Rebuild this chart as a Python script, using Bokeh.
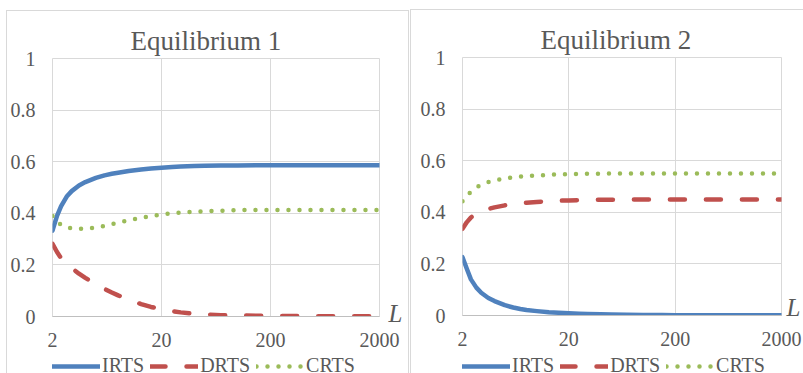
from bokeh.plotting import figure
from bokeh.models import Range1d, FixedTicker, Legend, LegendItem, LinearAxis
from bokeh.layouts import row, column
from bokeh.embed import file_html
from bokeh.resources import INLINE

# ---- data ----
L_values = [2, 2.2, 2.4, 2.7, 3, 3.5, 4, 5, 6, 7, 8, 10, 13, 16, 20, 25, 30, 40, 50, 70,
            100, 150, 200, 300, 500, 1000, 2000]

eq1_irts = [0.333, 0.390, 0.428, 0.465, 0.486, 0.508, 0.521, 0.537, 0.547, 0.553, 0.557, 0.564,
            0.570, 0.574, 0.577, 0.579, 0.581, 0.583, 0.584, 0.585, 0.585, 0.586, 0.586, 0.586,
            0.586, 0.586, 0.586]
eq1_drts = [0.282, 0.250, 0.226, 0.205, 0.188, 0.166, 0.150, 0.125, 0.107, 0.093, 0.082, 0.065,
            0.048, 0.037, 0.028, 0.021, 0.016, 0.011, 0.008, 0.005, 0.004, 0.003, 0.002, 0.002,
            0.001, 0.001, 0.001]
eq1_crts = [0.390, 0.370, 0.355, 0.346, 0.342, 0.340, 0.341, 0.344, 0.351, 0.358, 0.364, 0.373,
            0.383, 0.389, 0.396, 0.400, 0.403, 0.406, 0.408, 0.410, 0.412, 0.413, 0.413, 0.413,
            0.413, 0.413, 0.413]

eq2_irts = [0.226, 0.180, 0.140, 0.108, 0.088, 0.068, 0.056, 0.040, 0.031, 0.025, 0.021, 0.017,
            0.013, 0.011, 0.009, 0.007, 0.006, 0.005, 0.004, 0.003, 0.002, 0.002, 0.001, 0.001,
            0.001, 0.001, 0.001]
eq2_drts = [0.336, 0.362, 0.380, 0.396, 0.405, 0.413, 0.419, 0.427, 0.432, 0.435, 0.437, 0.440,
            0.443, 0.445, 0.446, 0.447, 0.448, 0.449, 0.449, 0.449, 0.450, 0.450, 0.450, 0.450,
            0.450, 0.450, 0.450]
eq2_crts = [0.443, 0.464, 0.480, 0.496, 0.507, 0.517, 0.523, 0.531, 0.536, 0.539, 0.541, 0.543,
            0.545, 0.547, 0.548, 0.549, 0.549, 0.550, 0.550, 0.550, 0.550, 0.550, 0.550, 0.550,
            0.550, 0.550, 0.550]

series_names = ["IRTS", "DRTS", "CRTS"]
titles = ["Equilibrium 1", "Equilibrium 2"]
x_label = "L"
x_ticks = [2, 20, 200, 2000]
x_tick_labels = ["2", "20", "200", "2000"]
y_ticks = [0, 0.2, 0.4, 0.6, 0.8, 1]
y_tick_labels = ["0", "0.2", "0.4", "0.6", "0.8", "1"]

# ---- style ----
FONT = "Liberation Serif"
TXT = "#595959"
GRID = "#d9d9d9"
COLORS = ["#4f81bd", "#c0504d", "#9bbb59"]
DASHES = ["solid", "15 21", "0 11"]
LW = 4.5
CHART_H = 354
LEG_H = 19


def add_lines(p, ys):
    return [p.line(L_values, y, line_color=c, line_width=LW, line_dash=d,
                   line_cap="round", line_join="round")
            for y, c, d in zip(ys, COLORS, DASHES)]


def chart(title, ys, width, mb, l_standoff, l_pos):
    p = figure(width=width, height=CHART_H, x_axis_type="log",
               x_range=Range1d(2, 2000), y_range=Range1d(0, 1),
               output_backend="svg", toolbar_location=None, title=title,
               min_border_left=mb[0], min_border_right=mb[1],
               min_border_top=mb[2], min_border_bottom=mb[3])
    p.border_fill_color = None
    p.background_fill_color = "white"
    p.outline_line_color = GRID

    p.title.text_font = FONT
    p.title.text_font_size = "27px"
    p.title.text_font_style = "normal"
    p.title.text_color = TXT
    p.title.align = "left"
    p.title.offset = 78
    p.title.standoff = 6

    p.xaxis.ticker = FixedTicker(ticks=x_ticks)
    p.xaxis.major_label_overrides = {t: s for t, s in zip(x_ticks, x_tick_labels)}
    p.yaxis.ticker = FixedTicker(ticks=y_ticks)
    p.yaxis.major_label_overrides = {t: s for t, s in zip(y_ticks, y_tick_labels)}
    for ax in (p.xaxis[0], p.yaxis[0]):
        ax.major_tick_line_color = None
        ax.minor_tick_line_color = None
        ax.major_tick_out = 0
        ax.major_tick_in = 0
        ax.minor_tick_out = 0
        ax.major_label_text_font = FONT
        ax.major_label_text_font_size = "20px"
        ax.major_label_text_color = TXT
    p.yaxis.axis_line_color = None
    p.yaxis.major_label_standoff = 17
    p.xaxis.axis_line_color = "#bfbfbf"
    p.xaxis.major_label_standoff = 16
    p.xgrid.ticker = FixedTicker(ticks=x_ticks)
    p.ygrid.ticker = FixedTicker(ticks=y_ticks)
    p.grid.grid_line_color = GRID
    p.xgrid.minor_grid_line_color = None

    # "L" (x-axis name) shown as a label on a right-hand axis, level with the x axis end
    lax = LinearAxis(ticker=FixedTicker(ticks=[l_pos]),
                     major_label_overrides={l_pos: x_label},
                     axis_line_color=None, major_tick_line_color=None,
                     minor_tick_line_color=None, major_tick_out=0, major_tick_in=0,
                     minor_tick_out=0, major_label_standoff=l_standoff,
                     major_label_text_font=FONT, major_label_text_font_style="italic",
                     major_label_text_font_size="25px", major_label_text_color=TXT)
    p.add_layout(lax, "right")
    add_lines(p, ys)
    return p


def legend_strip(ys, width, left):
    # same series drawn in a strip whose y range is above the data: only the legend shows
    q = figure(width=width, height=LEG_H, x_axis_type="log",
               x_range=Range1d(2, 2000), y_range=Range1d(5, 6),
               x_axis_location=None, y_axis_location=None,
               output_backend="svg", toolbar_location=None,
               min_border_left=left, min_border_right=0, min_border_top=0, min_border_bottom=0)
    q.border_fill_color = None
    q.background_fill_color = None
    q.outline_line_color = None
    q.grid.visible = False
    rs = add_lines(q, ys)
    leg = Legend(items=[LegendItem(label=n, renderers=[r]) for n, r in zip(series_names, rs)],
                 orientation="horizontal", location="top_left",
                 glyph_width=48, glyph_height=16, label_height=16, label_standoff=2, spacing=6,
                 padding=0, margin=0, border_line_color=None, background_fill_alpha=0,
                 label_text_font=FONT, label_text_font_size="20px", label_text_color=TXT)
    q.add_layout(leg)
    return q


G = "linear-gradient(#d9d9d9,#d9d9d9)"
bg1 = f"{G} 6px 10px / 100% 1px no-repeat, {G} 6px 10px / 1px 100% no-repeat, white"
bg2 = (f"{G} 0 10px / 4px 1px no-repeat, {G} 3px 10px / 1px 100% no-repeat, "
       f"{G} 5px 9px / 100% 1px no-repeat, {G} 5px 9px / 1px 100% no-repeat, white")

ys1 = [eq1_irts, eq1_drts, eq1_crts]
ys2 = [eq2_irts, eq2_drts, eq2_crts]
p1 = chart(titles[0], ys1, 405, (52, 26, 58, 38), 9, 0.01)
p2 = chart(titles[1], ys2, 398, (52, 20, 57, 39), 5, 0.03)
l1 = legend_strip(ys1, 405, 51)
l2 = legend_strip(ys2, 398, 57)

c1 = column(p1, l1, spacing=0, styles={"background": bg1})
c2 = column(p2, l2, spacing=0, styles={"background": bg2})
layout = row(c1, c2, spacing=0)
open("out.html", "w").write(file_html(layout, INLINE))
